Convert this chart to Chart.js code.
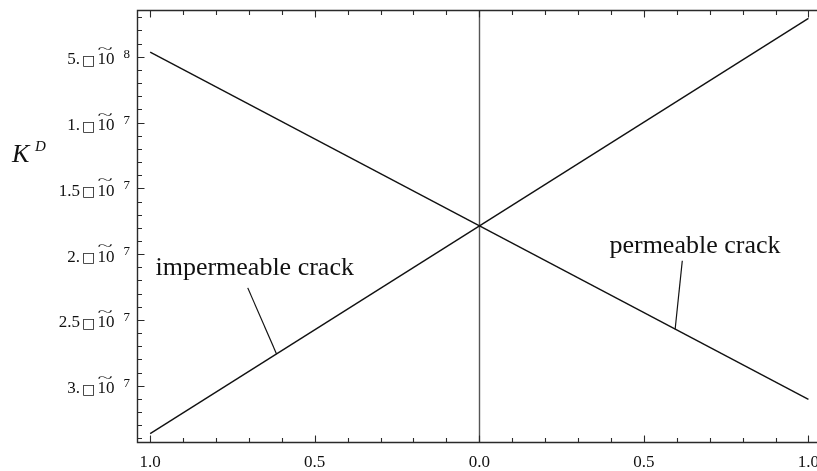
<!DOCTYPE html>
<html>
<head>
<meta charset="utf-8">
<script src="https://cdn.jsdelivr.net/npm/chart.js@4.4.1/dist/chart.umd.min.js"></script>
<style>
  html, body { margin: 0; padding: 0; background: #fff; overflow: hidden; }
  canvas { display: block; }
</style>
</head>
<body>
<canvas id="kdChart" width="817" height="471"></canvas>
<script>
// position along the crack
const xValues = [-1, 1];
// K^D for the two crack types
const permeableCrack = [-4.65e-8, -31.04e-8];
const impermeableCrack = [-33.64e-8, -2.08e-8];

// frame tick labels (printed without the sign, as exported)
const xTicks = [-1, -0.5, 0, 0.5, 1];
const xTickLabels = ['1.0', '0.5', '0.0', '0.5', '1.0'];
const yTicks = [-5e-8, -1e-7, -1.5e-7, -2e-7, -2.5e-7, -3e-7];
const yTickMantissa = ['5.', '1.', '1.5', '2.', '2.5', '3.'];
const yTickExponent = ['8', '7', '7', '7', '7', '7'];

// curve labels and their leader lines, in data units
const noteText = ['impermeable crack', 'permeable crack'];
const noteAt = [[-0.984, -21.6e-8], [0.3954, -19.94e-8]];
const leaderFrom = [[-0.7035, -22.56e-8], [0.6167, -20.5e-8]];
const leaderTo = [[-0.616, -27.58e-8], [0.595, -25.7e-8]];

const SERIF = '"Liberation Serif", "Times New Roman", serif';

const toPoints = (ys) => xValues.map((x, i) => ({ x: x, y: ys[i] }));

// frame, inward ticks, labels and notes
const framePlugin = {
  id: 'framePlugin',
  beforeDatasetsDraw(chart) {
    const { ctx, chartArea: a, scales: { x, y } } = chart;
    ctx.save();

    // x = 0 axis line
    const x0 = Math.round(x.getPixelForValue(0)) + 0.5;
    ctx.strokeStyle = '#555';
    ctx.lineWidth = 1.4;
    ctx.beginPath();
    ctx.moveTo(x0, a.top);
    ctx.lineTo(x0, a.bottom);
    ctx.stroke();

    // frame (the right edge falls outside the canvas)
    const L = a.left + 0.5, T = a.top + 0.5, B = a.bottom + 0.5;
    ctx.strokeStyle = '#2a2a2a';
    ctx.lineWidth = 1.4;
    ctx.beginPath();
    ctx.moveTo(a.right + 5, T);
    ctx.lineTo(L, T);
    ctx.lineTo(L, B);
    ctx.lineTo(a.right + 5, B);
    ctx.stroke();

    // x ticks, every 0.1, on bottom and top
    ctx.lineWidth = 1.1;
    ctx.beginPath();
    for (let i = -10; i <= 10; i++) {
      const px = Math.round(x.getPixelForValue(i / 10)) + 0.5;
      const len = i % 5 === 0 ? 7 : 4.5;
      ctx.moveTo(px, B);
      ctx.lineTo(px, B - len);
      ctx.moveTo(px, T);
      ctx.lineTo(px, T + len);
    }
    // y ticks, every 1e-8
    for (let k = 2; k <= 34; k++) {
      const py = Math.round(y.getPixelForValue(-k * 1e-8)) + 0.5;
      const len = k % 5 === 0 ? 7 : 4.5;
      ctx.moveTo(L, py);
      ctx.lineTo(L + len, py);
    }
    ctx.stroke();

    // x tick labels
    ctx.fillStyle = '#111';
    ctx.font = '17px ' + SERIF;
    ctx.textAlign = 'center';
    ctx.textBaseline = 'alphabetic';
    xTicks.forEach((v, i) => {
      ctx.fillText(xTickLabels[i], x.getPixelForValue(v), 467);
    });

    // y tick labels
    yTicks.forEach((v, i) => {
      const py = y.getPixelForValue(v);
      ctx.textAlign = 'right';
      ctx.font = '17px ' + SERIF;
      ctx.fillText(yTickMantissa[i], 80, py + 7.5);
      ctx.textAlign = 'left';
      ctx.font = '14px "DejaVu Sans"';
      ctx.fillText('□', 82, py + 8);
      ctx.font = '17px ' + SERIF;
      ctx.fillText('10', 97.5, py + 7.5);
      // wide, thin tilde over the 10
      ctx.save();
      ctx.translate(97.5, py - 4);
      ctx.scale(1.75, 0.8);
      ctx.font = '16px ' + SERIF;
      ctx.fillText('~', 0, 0);
      ctx.restore();
      ctx.font = '13px ' + SERIF;
      ctx.fillText(yTickExponent[i], 123.5, py + 1);
    });

    // axis name K^D
    ctx.font = 'italic 26px ' + SERIF;
    ctx.fillText('K', 12, 162);
    ctx.font = 'italic 15px ' + SERIF;
    ctx.fillText('D', 35, 151);

    ctx.restore();
  },
  afterDatasetsDraw(chart) {
    const { ctx, scales: { x, y } } = chart;
    ctx.save();
    ctx.strokeStyle = '#111';
    ctx.lineWidth = 1.2;
    ctx.fillStyle = '#111';
    ctx.font = '26px ' + SERIF;
    ctx.textAlign = 'left';
    ctx.textBaseline = 'alphabetic';
    noteText.forEach((t, i) => {
      ctx.fillText(t, x.getPixelForValue(noteAt[i][0]), y.getPixelForValue(noteAt[i][1]));
      ctx.beginPath();
      ctx.moveTo(x.getPixelForValue(leaderFrom[i][0]), y.getPixelForValue(leaderFrom[i][1]));
      ctx.lineTo(x.getPixelForValue(leaderTo[i][0]), y.getPixelForValue(leaderTo[i][1]));
      ctx.stroke();
    });
    ctx.restore();
  }
};

new Chart(document.getElementById('kdChart'), {
  type: 'line',
  data: {
    datasets: [
      {
        label: 'permeable crack',
        data: toPoints(permeableCrack),
        borderColor: '#111',
        borderWidth: 1.4,
        pointRadius: 0,
        tension: 0
      },
      {
        label: 'impermeable crack',
        data: toPoints(impermeableCrack),
        borderColor: '#111',
        borderWidth: 1.4,
        pointRadius: 0,
        tension: 0
      }
    ]
  },
  options: {
    responsive: false,
    animation: false,
    layout: { padding: { left: 137, top: 10, right: 0, bottom: 29 } },
    plugins: { legend: { display: false }, tooltip: { enabled: false } },
    scales: {
      x: { type: 'linear', min: -1.04, max: 1.026, display: false },
      y: { type: 'linear', min: -34.27e-8, max: -1.45e-8, display: false }
    }
  },
  plugins: [framePlugin]
});
</script>
</body>
</html>
